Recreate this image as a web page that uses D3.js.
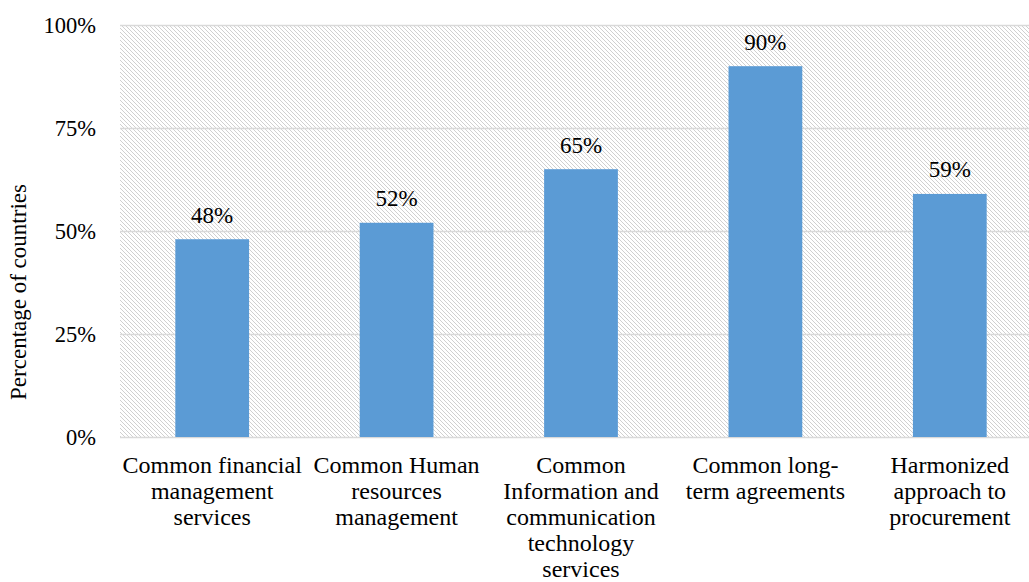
<!DOCTYPE html>
<html>
<head>
<meta charset="utf-8">
<script src="https://cdn.jsdelivr.net/npm/d3@7/dist/d3.min.js"></script>
<style>
    html, body { margin: 0; padding: 0; background: #fff; }
</style>
</head>
<body>
<div id="chart"></div>
<script>
'use strict';

// categories (line breaks as in the picture)
var categories = [
    'Common financial\nmanagement\nservices',
    'Common Human\nresources\nmanagement',
    'Common\nInformation and\ncommunication\ntechnology\nservices',
    'Common long-\nterm agreements',
    'Harmonized\napproach to\nprocurement'
];
var values = [48, 52, 65, 90, 59];
var yTicks = [0, 25, 50, 75, 100];
var yTitle = 'Percentage of countries';

var W = 1029, H = 582;
var margin = {top: 25, right: -13, bottom: 145, left: 120};
var serif = "'Liberation Serif', 'Times New Roman', Tinos, Times, serif";

var svg = d3.select('#chart')
    .append('svg')
        .attr('width', W)
        .attr('height', H)
        .style('font-family', serif);

// light downward diagonal hatch
var pat = svg.append('defs').append('pattern')
    .attr('id', 'hatch')
    .attr('patternUnits', 'userSpaceOnUse')
    .attr('width', 4)
    .attr('height', 4);
[0, 1, 2, 3].forEach(function(i) {
    pat.append('rect')
        .attr('x', i).attr('y', i)
        .attr('width', 1).attr('height', 1)
        .attr('fill', '#d0d0d0');
});

var x = d3.scaleBand()
    .domain(categories)
    .range([margin.left, W - margin.right])
    .paddingInner(0.6)
    .paddingOuter(0.3);

var y = d3.scaleLinear()
    .domain([0, 100])
    .range([H - margin.bottom, margin.top]);

// plot background
svg.append('rect')
    .attr('x', margin.left)
    .attr('y', y(100))
    .attr('width', W - margin.left)
    .attr('height', y(0) - y(100))
    .attr('fill', 'url(#hatch)');

// gridlines + y labels
var yAxis = d3.axisLeft(y)
    .tickValues(yTicks)
    .tickSize(-(W - margin.left))
    .tickPadding(24)
    .tickFormat(function(d) { return d + '%'; });

var gy = svg.append('g')
    .attr('transform', 'translate(' + margin.left + ',0)')
    .call(yAxis)
    .attr('font-family', null)
    .attr('font-size', null);
gy.select('.domain').remove();
gy.selectAll('.tick line')
    .attr('stroke', '#d9d9d9')
    .attr('stroke-width', 1.5);
gy.selectAll('.tick text')
    .style('font-size', '22.5px')
    .attr('fill', '#000');

// bars
svg.selectAll('.bar')
    .data(values)
    .enter().append('rect')
        .attr('class', 'bar')
        .attr('x', function(d, i) { return x(categories[i]); })
        .attr('y', function(d) { return y(d); })
        .attr('width', x.bandwidth())
        .attr('height', function(d) { return y(0) - y(d); })
        .attr('fill', '#5b9bd5');

// data labels
svg.selectAll('.label')
    .data(values)
    .enter().append('text')
        .attr('class', 'label')
        .attr('x', function(d, i) { return x(categories[i]) + x.bandwidth() / 2; })
        .attr('y', function(d) { return y(d) - 16.5; })
        .attr('text-anchor', 'middle')
        .style('font-size', '23px')
        .text(function(d) { return d + '%'; });

// category labels
var gx = svg.append('g');
categories.forEach(function(c) {
    var cx = x(c) + x.bandwidth() / 2;
    var t = gx.append('text')
        .attr('x', cx)
        .attr('y', y(0) + 36)
        .attr('text-anchor', 'middle')
        .style('font-size', '24px');
    c.split('\n').forEach(function(line, j) {
        t.append('tspan')
            .attr('x', cx)
            .attr('dy', j == 0 ? 0 : 26)
            .text(line);
    });
});

// y title
svg.append('text')
    .attr('transform', 'translate(26,292) rotate(-90)')
    .attr('text-anchor', 'middle')
    .style('font-size', '23px')
    .text(yTitle);
</script>
</body>
</html>
